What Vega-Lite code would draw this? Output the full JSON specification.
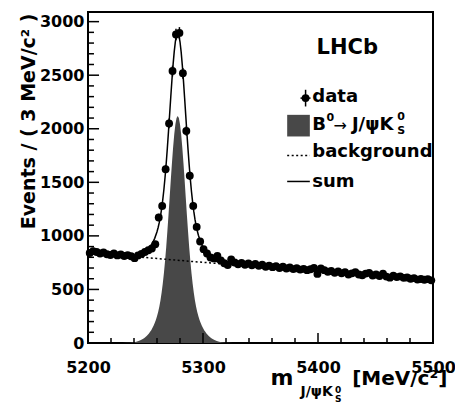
{
  "$schema": "https://vega.github.io/schema/vega-lite/v6.json",
  "width": 345,
  "height": 331,
  "autosize": {"type": "none"},
  "padding": {"left": 88, "top": 12, "right": 22, "bottom": 61},
  "background": "white",
  "config": {
    "view": {"stroke": "black", "strokeWidth": 2},
    "font": "DejaVu Sans",
    "axis": {
      "labelFont": "DejaVu Sans", "labelFontWeight": "bold", "labelFontSize": 16, "labelColor": "black",
      "domain": false, "grid": false, "ticks": false,
      "titleColor": "black", "titleFont": "DejaVu Sans", "titleFontWeight": "bold", "titleFontSize": 19,
      "labelOverlap": false, "labelFlush": false
    }
  },
  "datasets": {
    "hist": [
      {"m": 5201.5, "n": 840, "e": 29}, {"m": 5204.5, "n": 858, "e": 29}, {"m": 5207.5, "n": 850, "e": 29},
      {"m": 5210.5, "n": 835, "e": 29}, {"m": 5213.5, "n": 845, "e": 29}, {"m": 5216.5, "n": 828, "e": 29},
      {"m": 5219.5, "n": 822, "e": 29}, {"m": 5222.5, "n": 835, "e": 29}, {"m": 5225.5, "n": 818, "e": 29},
      {"m": 5228.5, "n": 826, "e": 29}, {"m": 5231.5, "n": 812, "e": 28}, {"m": 5234.5, "n": 820, "e": 29},
      {"m": 5237.5, "n": 810, "e": 28}, {"m": 5240.5, "n": 792, "e": 28}, {"m": 5243.5, "n": 818, "e": 29},
      {"m": 5246.5, "n": 832, "e": 29}, {"m": 5249.5, "n": 850, "e": 29}, {"m": 5252.5, "n": 866, "e": 29},
      {"m": 5255.5, "n": 882, "e": 30}, {"m": 5258.5, "n": 922, "e": 30}, {"m": 5261.5, "n": 1172, "e": 34},
      {"m": 5264.5, "n": 1280, "e": 36}, {"m": 5267.5, "n": 1623, "e": 40}, {"m": 5270.5, "n": 2050, "e": 45},
      {"m": 5273.5, "n": 2539, "e": 50}, {"m": 5276.5, "n": 2880, "e": 54}, {"m": 5279.5, "n": 2895, "e": 54},
      {"m": 5282.5, "n": 2518, "e": 50}, {"m": 5285.5, "n": 1979, "e": 44}, {"m": 5288.5, "n": 1561, "e": 40},
      {"m": 5291.5, "n": 1280, "e": 36}, {"m": 5294.5, "n": 1084, "e": 33}, {"m": 5297.5, "n": 947, "e": 31},
      {"m": 5300.5, "n": 876, "e": 30}, {"m": 5303.5, "n": 835, "e": 29}, {"m": 5306.5, "n": 798, "e": 28},
      {"m": 5309.5, "n": 790, "e": 28}, {"m": 5312.5, "n": 812, "e": 28}, {"m": 5315.5, "n": 770, "e": 28},
      {"m": 5318.5, "n": 745, "e": 27}, {"m": 5321.5, "n": 728, "e": 27}, {"m": 5324.5, "n": 780, "e": 28},
      {"m": 5327.5, "n": 752, "e": 27}, {"m": 5330.5, "n": 735, "e": 27}, {"m": 5333.5, "n": 748, "e": 27},
      {"m": 5336.5, "n": 730, "e": 27}, {"m": 5339.5, "n": 742, "e": 27}, {"m": 5342.5, "n": 725, "e": 27},
      {"m": 5345.5, "n": 738, "e": 27}, {"m": 5348.5, "n": 720, "e": 27}, {"m": 5351.5, "n": 730, "e": 27},
      {"m": 5354.5, "n": 712, "e": 27}, {"m": 5357.5, "n": 722, "e": 27}, {"m": 5360.5, "n": 708, "e": 27},
      {"m": 5363.5, "n": 718, "e": 27}, {"m": 5366.5, "n": 700, "e": 26}, {"m": 5369.5, "n": 712, "e": 27},
      {"m": 5372.5, "n": 695, "e": 26}, {"m": 5375.5, "n": 705, "e": 27}, {"m": 5378.5, "n": 690, "e": 26},
      {"m": 5381.5, "n": 698, "e": 26}, {"m": 5384.5, "n": 685, "e": 26}, {"m": 5387.5, "n": 692, "e": 26},
      {"m": 5390.5, "n": 680, "e": 26}, {"m": 5393.5, "n": 688, "e": 26}, {"m": 5396.5, "n": 700, "e": 26},
      {"m": 5399.5, "n": 645, "e": 25}, {"m": 5402.5, "n": 695, "e": 26}, {"m": 5405.5, "n": 680, "e": 26},
      {"m": 5408.5, "n": 665, "e": 26}, {"m": 5411.5, "n": 672, "e": 26}, {"m": 5414.5, "n": 655, "e": 26},
      {"m": 5417.5, "n": 668, "e": 26}, {"m": 5420.5, "n": 650, "e": 25}, {"m": 5423.5, "n": 662, "e": 26},
      {"m": 5426.5, "n": 640, "e": 25}, {"m": 5429.5, "n": 650, "e": 25}, {"m": 5432.5, "n": 660, "e": 26},
      {"m": 5435.5, "n": 640, "e": 25}, {"m": 5438.5, "n": 632, "e": 25}, {"m": 5441.5, "n": 648, "e": 25},
      {"m": 5444.5, "n": 655, "e": 26}, {"m": 5447.5, "n": 630, "e": 25}, {"m": 5450.5, "n": 640, "e": 25},
      {"m": 5453.5, "n": 625, "e": 25}, {"m": 5456.5, "n": 648, "e": 25}, {"m": 5459.5, "n": 620, "e": 25},
      {"m": 5462.5, "n": 610, "e": 25}, {"m": 5465.5, "n": 628, "e": 25}, {"m": 5468.5, "n": 615, "e": 25},
      {"m": 5471.5, "n": 622, "e": 25}, {"m": 5474.5, "n": 608, "e": 25}, {"m": 5477.5, "n": 612, "e": 25},
      {"m": 5480.5, "n": 600, "e": 24}, {"m": 5483.5, "n": 606, "e": 25}, {"m": 5486.5, "n": 592, "e": 24},
      {"m": 5489.5, "n": 598, "e": 24}, {"m": 5492.5, "n": 590, "e": 24}, {"m": 5495.5, "n": 596, "e": 24},
      {"m": 5498.5, "n": 585, "e": 24}
    ],
    "sig": [
      {"m": 5226, "s": 0}, {"m": 5230, "s": 1}, {"m": 5234, "s": 2}, {"m": 5236, "s": 3}, {"m": 5238, "s": 5},
      {"m": 5240, "s": 8}, {"m": 5242, "s": 12}, {"m": 5244, "s": 18}, {"m": 5246, "s": 27}, {"m": 5248, "s": 39},
      {"m": 5249, "s": 47}, {"m": 5250, "s": 55}, {"m": 5251, "s": 65}, {"m": 5252, "s": 76}, {"m": 5253, "s": 89},
      {"m": 5254, "s": 104}, {"m": 5255, "s": 120}, {"m": 5256, "s": 139}, {"m": 5257, "s": 161}, {"m": 5258, "s": 186},
      {"m": 5259, "s": 215}, {"m": 5260, "s": 249}, {"m": 5261, "s": 290}, {"m": 5262, "s": 339}, {"m": 5263, "s": 397},
      {"m": 5264, "s": 468}, {"m": 5265, "s": 552}, {"m": 5266, "s": 650}, {"m": 5267, "s": 765}, {"m": 5268, "s": 895},
      {"m": 5269, "s": 1040}, {"m": 5270, "s": 1196}, {"m": 5271, "s": 1359}, {"m": 5272, "s": 1523}, {"m": 5273, "s": 1681},
      {"m": 5274, "s": 1825}, {"m": 5275, "s": 1948}, {"m": 5276, "s": 2041}, {"m": 5277, "s": 2100}, {"m": 5278, "s": 2120},
      {"m": 5279, "s": 2100}, {"m": 5280, "s": 2041}, {"m": 5281, "s": 1948}, {"m": 5282, "s": 1825}, {"m": 5283, "s": 1681},
      {"m": 5284, "s": 1523}, {"m": 5285, "s": 1359}, {"m": 5286, "s": 1196}, {"m": 5287, "s": 1040}, {"m": 5288, "s": 895},
      {"m": 5289, "s": 765}, {"m": 5290, "s": 650}, {"m": 5291, "s": 552}, {"m": 5292, "s": 468}, {"m": 5293, "s": 397},
      {"m": 5294, "s": 339}, {"m": 5295, "s": 290}, {"m": 5296, "s": 249}, {"m": 5297, "s": 215}, {"m": 5298, "s": 186},
      {"m": 5299, "s": 161}, {"m": 5300, "s": 139}, {"m": 5301, "s": 120}, {"m": 5302, "s": 104}, {"m": 5303, "s": 89},
      {"m": 5304, "s": 76}, {"m": 5305, "s": 65}, {"m": 5306, "s": 55}, {"m": 5307, "s": 47}, {"m": 5308, "s": 39},
      {"m": 5310, "s": 27}, {"m": 5312, "s": 18}, {"m": 5314, "s": 12}, {"m": 5316, "s": 8}, {"m": 5318, "s": 5},
      {"m": 5320, "s": 3}, {"m": 5322, "s": 2}, {"m": 5326, "s": 1}, {"m": 5330, "s": 0}
    ],
    "bkg": [
      {"m": 5200, "b": 845}, {"m": 5210, "b": 835.3}, {"m": 5220, "b": 825.8}, {"m": 5230, "b": 816.3},
      {"m": 5240, "b": 807.0}, {"m": 5250, "b": 797.8}, {"m": 5260, "b": 788.7}, {"m": 5270, "b": 779.6},
      {"m": 5280, "b": 770.7}, {"m": 5290, "b": 761.9}, {"m": 5300, "b": 753.2}, {"m": 5320, "b": 736.1},
      {"m": 5340, "b": 719.3}, {"m": 5360, "b": 702.9}, {"m": 5380, "b": 686.9}, {"m": 5400, "b": 671.3},
      {"m": 5420, "b": 656.0}, {"m": 5440, "b": 641.1}, {"m": 5460, "b": 626.5}, {"m": 5480, "b": 612.2},
      {"m": 5500, "b": 598.3}
    ],
    "sum": [
      {"m": 5200, "t": 845}, {"m": 5210, "t": 835.3}, {"m": 5220, "t": 825.8}, {"m": 5226, "t": 820},
      {"m": 5230, "t": 817}, {"m": 5234, "t": 815}, {"m": 5238, "t": 814}, {"m": 5240, "t": 815},
      {"m": 5244, "t": 821}, {"m": 5248, "t": 839}, {"m": 5250, "t": 853}, {"m": 5252, "t": 872},
      {"m": 5254, "t": 898}, {"m": 5256, "t": 931}, {"m": 5258, "t": 977}, {"m": 5260, "t": 1038},
      {"m": 5261, "t": 1078}, {"m": 5262, "t": 1126}, {"m": 5263, "t": 1183}, {"m": 5264, "t": 1253},
      {"m": 5265, "t": 1336}, {"m": 5266, "t": 1433}, {"m": 5267, "t": 1547}, {"m": 5268, "t": 1676},
      {"m": 5269, "t": 1821}, {"m": 5270, "t": 1976}, {"m": 5271, "t": 2138}, {"m": 5272, "t": 2301},
      {"m": 5273, "t": 2458}, {"m": 5274, "t": 2601}, {"m": 5275, "t": 2723}, {"m": 5276, "t": 2815},
      {"m": 5277, "t": 2873}, {"m": 5278, "t": 2892}, {"m": 5279, "t": 2872}, {"m": 5280, "t": 2812},
      {"m": 5281, "t": 2718}, {"m": 5282, "t": 2594}, {"m": 5283, "t": 2449}, {"m": 5284, "t": 2290},
      {"m": 5285, "t": 2125}, {"m": 5286, "t": 1961}, {"m": 5287, "t": 1805}, {"m": 5288, "t": 1659},
      {"m": 5289, "t": 1528}, {"m": 5290, "t": 1412}, {"m": 5291, "t": 1313}, {"m": 5292, "t": 1228},
      {"m": 5293, "t": 1156}, {"m": 5294, "t": 1097}, {"m": 5295, "t": 1048}, {"m": 5296, "t": 1006},
      {"m": 5298, "t": 941}, {"m": 5300, "t": 892}, {"m": 5302, "t": 856}, {"m": 5304, "t": 826},
      {"m": 5306, "t": 803}, {"m": 5308, "t": 785}, {"m": 5312, "t": 761}, {"m": 5316, "t": 748},
      {"m": 5320, "t": 739}, {"m": 5330, "t": 728}, {"m": 5340, "t": 719.3}, {"m": 5360, "t": 702.9},
      {"m": 5380, "t": 686.9}, {"m": 5400, "t": 671.3}, {"m": 5420, "t": 656.0}, {"m": 5440, "t": 641.1},
      {"m": 5460, "t": 626.5}, {"m": 5480, "t": 612.2}, {"m": 5500, "t": 598.3}
    ],
    "xmajor": [{"v": 5200}, {"v": 5300}, {"v": 5400}, {"v": 5500}],
    "xminor": [{"v": 5220}, {"v": 5240}, {"v": 5260}, {"v": 5280}, {"v": 5320}, {"v": 5340}, {"v": 5360}, {"v": 5380}, {"v": 5420}, {"v": 5440}, {"v": 5460}, {"v": 5480}],
    "ymajor": [{"v": 500}, {"v": 1000}, {"v": 1500}, {"v": 2000}, {"v": 2500}, {"v": 3000}],
    "yminor": [{"v": 100}, {"v": 200}, {"v": 300}, {"v": 400}, {"v": 600}, {"v": 700}, {"v": 800}, {"v": 900}, {"v": 1100}, {"v": 1200}, {"v": 1300}, {"v": 1400}, {"v": 1600}, {"v": 1700}, {"v": 1800}, {"v": 1900}, {"v": 2100}, {"v": 2200}, {"v": 2300}, {"v": 2400}, {"v": 2600}, {"v": 2700}, {"v": 2800}, {"v": 2900}]
  },
  "layer": [
    {
      "data": {"name": "sig"},
      "mark": {"type": "area", "color": "#484848"},
      "encoding": {
        "x": {
          "field": "m", "type": "quantitative", "title": null,
          "scale": {"domain": [5200, 5500], "nice": false, "zero": false},
          "axis": {
            "title": null,
            "orient": "bottom",
            "values": [5200, 5300, 5400, 5500],
            "format": "d",
            "labelOverlap": false,
            "labelFlush": false,
            "ticks": false,
            "labelPadding": 16
          }
        },
        "y": {
          "field": "s", "type": "quantitative", "title": "Events / ( 3 MeV/c² )",
          "scale": {"domain": [0, 3090], "nice": false, "zero": true},
          "axis": {
            "title": "Events / ( 3 MeV/c² )",
            "orient": "left",
            "values": [0, 500, 1000, 1500, 2000, 2500, 3000],
            "format": "d",
            "labelOverlap": false,
            "ticks": false,
            "labelPadding": 4,
            "titleX": -60, "titleY": 1, "titleAngle": -90, "titleAlign": "right", "titleBaseline": "middle"
          }
        }
      }
    },
    {
      "data": {"name": "bkg"},
      "mark": {"type": "line", "color": "black", "strokeWidth": 1.5, "strokeDash": [2, 2.5]},
      "encoding": {"x": {"field": "m", "type": "quantitative", "title": null}, "y": {"field": "b", "type": "quantitative", "title": "Events / ( 3 MeV/c² )"}}
    },
    {
      "data": {"name": "sum"},
      "mark": {"type": "line", "color": "black", "strokeWidth": 1.5},
      "encoding": {"x": {"field": "m", "type": "quantitative", "title": null}, "y": {"field": "t", "type": "quantitative", "title": "Events / ( 3 MeV/c² )"}}
    },
    {
      "data": {"name": "hist"},
      "mark": {"type": "errorbar", "ticks": false, "color": "black", "thickness": 1.5},
      "encoding": {"x": {"field": "m", "type": "quantitative", "title": null}, "y": {"field": "n", "type": "quantitative", "title": "Events / ( 3 MeV/c² )"}, "yError": {"field": "e"}}
    },
    {
      "data": {"name": "hist"},
      "mark": {"type": "circle", "size": 62, "color": "black", "opacity": 1},
      "encoding": {"x": {"field": "m", "type": "quantitative", "title": null}, "y": {"field": "n", "type": "quantitative", "title": "Events / ( 3 MeV/c² )"}}
    },
    {
      "data": {"name": "xmajor"},
      "mark": {"type": "rule", "color": "black", "strokeWidth": 1.5},
      "encoding": {"x": {"field": "v", "type": "quantitative"}, "y": {"datum": 0, "type": "quantitative"}, "y2": {"datum": 93}}
    },
    {
      "data": {"name": "xminor"},
      "mark": {"type": "rule", "color": "black", "strokeWidth": 1.5},
      "encoding": {"x": {"field": "v", "type": "quantitative"}, "y": {"datum": 0, "type": "quantitative"}, "y2": {"datum": 47}}
    },
    {
      "data": {"name": "ymajor"},
      "mark": {"type": "rule", "color": "black", "strokeWidth": 1.5},
      "encoding": {"y": {"field": "v", "type": "quantitative"}, "x": {"datum": 5200, "type": "quantitative"}, "x2": {"datum": 5209.6}}
    },
    {
      "data": {"name": "yminor"},
      "mark": {"type": "rule", "color": "black", "strokeWidth": 1.5},
      "encoding": {"y": {"field": "v", "type": "quantitative"}, "x": {"datum": 5200, "type": "quantitative"}, "x2": {"datum": 5205.2}}
    },
    {
      "data": {"values": [{}]},
      "mark": {"type": "rule", "color": "black", "strokeWidth": 1.5},
      "encoding": {"x": {"datum": 5384.8, "type": "quantitative"}, "x2": {"datum": 5393.5}, "y": {"datum": 2286, "type": "quantitative"}}
    },
    {
      "data": {"values": [{}]},
      "mark": {"type": "rule", "color": "black", "strokeWidth": 1.5},
      "encoding": {"x": {"datum": 5389.2, "type": "quantitative"}, "y": {"datum": 2364, "type": "quantitative"}, "y2": {"datum": 2208}}
    },
    {
      "data": {"values": [{}]},
      "mark": {"type": "circle", "size": 62, "color": "black", "opacity": 1},
      "encoding": {"x": {"datum": 5389.2, "type": "quantitative"}, "y": {"datum": 2286, "type": "quantitative"}}
    },
    {
      "data": {"values": [{}]},
      "mark": {"type": "rect", "color": "#484848"},
      "encoding": {"x": {"datum": 5373.2, "type": "quantitative"}, "x2": {"datum": 5392.9}, "y": {"datum": 2130, "type": "quantitative"}, "y2": {"datum": 1928}}
    },
    {
      "data": {"values": [{}]},
      "mark": {"type": "rule", "color": "black", "strokeWidth": 1.5, "strokeDash": [2, 2.5]},
      "encoding": {"x": {"datum": 5373.2, "type": "quantitative"}, "x2": {"datum": 5392.9}, "y": {"datum": 1750, "type": "quantitative"}}
    },
    {
      "data": {"values": [{}]},
      "mark": {"type": "rule", "color": "black", "strokeWidth": 1.5},
      "encoding": {"x": {"datum": 5373.2, "type": "quantitative"}, "x2": {"datum": 5392.9}, "y": {"datum": 1508, "type": "quantitative"}}
    },
    {
      "data": {"values": [{}]},
      "mark": {"type": "text", "text": "LHCb", "font": "DejaVu Sans", "fontWeight": "bold", "fontSize": 21, "align": "center", "baseline": "middle", "color": "black"},
      "encoding": {"x": {"datum": 5425.4, "type": "quantitative"}, "y": {"datum": 2755, "type": "quantitative"}}
    },
    {
      "data": {"values": [{}]},
      "mark": {"type": "text", "text": "data", "font": "DejaVu Sans", "fontWeight": "bold", "fontSize": 18, "align": "left", "baseline": "middle", "color": "black"},
      "encoding": {"x": {"datum": 5395, "type": "quantitative"}, "y": {"datum": 2298, "type": "quantitative"}}
    },
    {
      "data": {"values": [{}]},
      "mark": {"type": "text", "text": "B", "font": "DejaVu Sans", "fontWeight": "bold", "fontSize": 18, "align": "left", "baseline": "middle", "color": "black"},
      "encoding": {"x": {"datum": 5395, "type": "quantitative"}, "y": {"datum": 2037, "type": "quantitative"}}
    },
    {
      "data": {"values": [{}]},
      "mark": {"type": "text", "text": "0", "font": "DejaVu Sans", "fontWeight": "bold", "fontSize": 11, "align": "left", "baseline": "middle", "color": "black"},
      "encoding": {"x": {"datum": 5407.4, "type": "quantitative"}, "y": {"datum": 2102, "type": "quantitative"}}
    },
    {
      "data": {"values": [{}]},
      "mark": {"type": "text", "text": "→", "font": "DejaVu Sans", "fontSize": 16, "align": "left", "baseline": "middle", "color": "black"},
      "encoding": {"x": {"datum": 5413.5, "type": "quantitative"}, "y": {"datum": 2030, "type": "quantitative"}}
    },
    {
      "data": {"values": [{}]},
      "mark": {"type": "text", "text": "J/ψK", "font": "DejaVu Sans", "fontWeight": "bold", "fontSize": 18, "align": "left", "baseline": "middle", "color": "black"},
      "encoding": {"x": {"datum": 5429.5, "type": "quantitative"}, "y": {"datum": 2037, "type": "quantitative"}}
    },
    {
      "data": {"values": [{}]},
      "mark": {"type": "text", "text": "0", "font": "DejaVu Sans", "fontWeight": "bold", "fontSize": 11, "align": "left", "baseline": "middle", "color": "black"},
      "encoding": {"x": {"datum": 5469, "type": "quantitative"}, "y": {"datum": 2107, "type": "quantitative"}}
    },
    {
      "data": {"values": [{}]},
      "mark": {"type": "text", "text": "S", "font": "DejaVu Sans", "fontWeight": "bold", "fontSize": 11, "align": "left", "baseline": "middle", "color": "black"},
      "encoding": {"x": {"datum": 5469, "type": "quantitative"}, "y": {"datum": 1975, "type": "quantitative"}}
    },
    {
      "data": {"values": [{}]},
      "mark": {"type": "text", "text": "background", "font": "DejaVu Sans", "fontWeight": "bold", "fontSize": 18, "align": "left", "baseline": "middle", "color": "black"},
      "encoding": {"x": {"datum": 5395, "type": "quantitative"}, "y": {"datum": 1779, "type": "quantitative"}}
    },
    {
      "data": {"values": [{}]},
      "mark": {"type": "text", "text": "sum", "font": "DejaVu Sans", "fontWeight": "bold", "fontSize": 18, "align": "left", "baseline": "middle", "color": "black"},
      "encoding": {"x": {"datum": 5395, "type": "quantitative"}, "y": {"datum": 1505, "type": "quantitative"}}
    },
    {
      "data": {"values": [{}]},
      "mark": {"type": "text", "text": "m", "font": "DejaVu Sans", "fontWeight": "bold", "fontSize": 22, "align": "left", "baseline": "alphabetic", "color": "black"},
      "encoding": {"x": {"datum": 5358.7, "type": "quantitative"}, "y": {"datum": -389, "type": "quantitative"}}
    },
    {
      "data": {"values": [{}]},
      "mark": {"type": "text", "text": "J/ψK", "font": "DejaVu Sans", "fontWeight": "bold", "fontSize": 14, "align": "left", "baseline": "alphabetic", "color": "black"},
      "encoding": {"x": {"datum": 5384.8, "type": "quantitative"}, "y": {"datum": -492, "type": "quantitative"}}
    },
    {
      "data": {"values": [{}]},
      "mark": {"type": "text", "text": "0", "font": "DejaVu Sans", "fontWeight": "bold", "fontSize": 9, "align": "left", "baseline": "alphabetic", "color": "black"},
      "encoding": {"x": {"datum": 5414.8, "type": "quantitative"}, "y": {"datum": -464, "type": "quantitative"}}
    },
    {
      "data": {"values": [{}]},
      "mark": {"type": "text", "text": "S", "font": "DejaVu Sans", "fontWeight": "bold", "fontSize": 9, "align": "left", "baseline": "alphabetic", "color": "black"},
      "encoding": {"x": {"datum": 5414.8, "type": "quantitative"}, "y": {"datum": -550, "type": "quantitative"}}
    },
    {
      "data": {"values": [{}]},
      "mark": {"type": "text", "text": "[MeV/c²]", "font": "DejaVu Sans", "fontWeight": "bold", "fontSize": 20, "align": "left", "baseline": "alphabetic", "color": "black"},
      "encoding": {"x": {"datum": 5429.7, "type": "quantitative"}, "y": {"datum": -389, "type": "quantitative"}}
    }
  ]
}
